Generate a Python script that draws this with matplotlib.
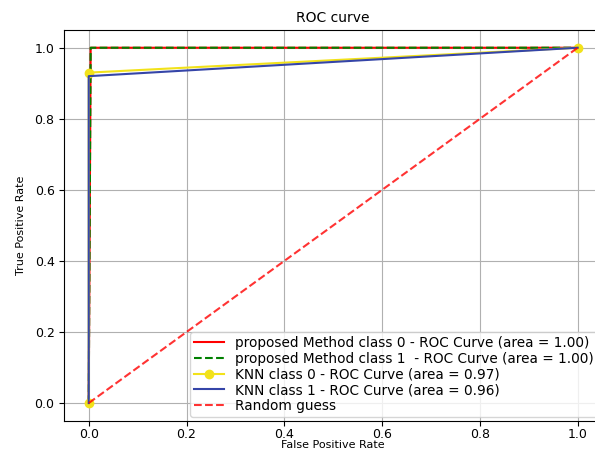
import numpy as np
import matplotlib.pyplot as plt

# ROC points
fpr_prop0 = [0.0, 0.004, 1.0]
tpr_prop0 = [0.0, 1.0, 1.0]
fpr_prop1 = [0.0, 0.004, 1.0]
tpr_prop1 = [0.0, 1.0, 1.0]
fpr_knn0 = [0.0, 0.0, 1.0]
tpr_knn0 = [0.0, 0.93, 1.0]
fpr_knn1 = [0.0, 0.0, 1.0]
tpr_knn1 = [0.0, 0.92, 1.0]
auc_prop0, auc_prop1, auc_knn0, auc_knn1 = 1.00, 1.00, 0.97, 0.96

fig = plt.figure(figsize=(5.95, 4.54), dpi=100)
ax = fig.add_axes([0.108, 0.073, 0.904, 0.861])

ax.plot(fpr_prop0, tpr_prop0, color='red', lw=1.5,
        label=f'proposed Method class 0 - ROC Curve (area = {auc_prop0:.2f})')
ax.plot(fpr_prop1, tpr_prop1, color='green', ls='--', lw=1.5,
        label=f'proposed Method class 1  - ROC Curve (area = {auc_prop1:.2f})')
ax.plot(fpr_knn0, tpr_knn0, color='#f2e21a', lw=1.5, marker='o', markersize=6,
        label=f'KNN class 0 - ROC Curve (area = {auc_knn0:.2f})')
ax.plot(fpr_knn1, tpr_knn1, color='#3545a8', lw=1.5,
        label=f'KNN class 1 - ROC Curve (area = {auc_knn1:.2f})')
ax.plot([0, 1], [0, 1], color='red', ls='--', lw=1.5, alpha=0.8, label='Random guess')

ax.set_xlim(-0.05, 1.05)
ax.set_ylim(-0.05, 1.05)
ax.grid(True)
ax.tick_params(labelsize=9)
ax.tick_params(axis='x', pad=2)
ax.set_title('ROC curve', fontsize=10)
ax.set_xlabel('False Positive Rate', fontsize=8, labelpad=-1)
ax.set_ylabel('True Positive Rate', fontsize=8, labelpad=6)
ax.legend(loc='lower right', fontsize=9.8, borderaxespad=0.3, handlelength=2.2,
          labelspacing=0.12, borderpad=0.3)

fig.savefig('out.png', dpi=100)
